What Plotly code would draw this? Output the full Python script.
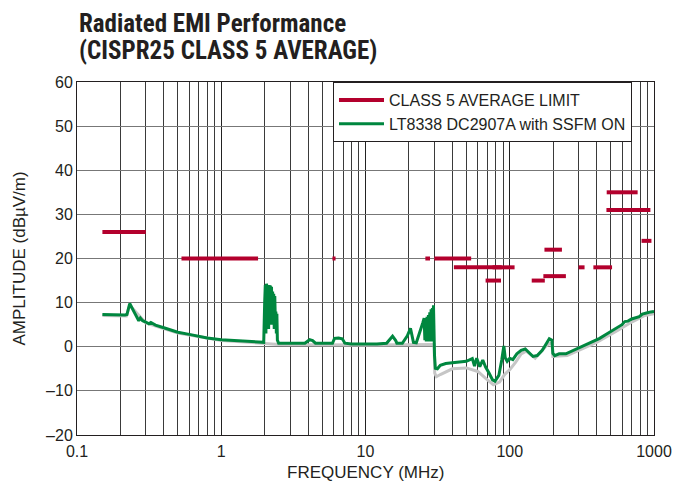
import plotly.graph_objects as go

# ---- data ----
lim_start = [0.15, 0.53, 5.9, 26, 30, 41, 68, 76, 142, 171, 174, 300, 380, 468, 470, 820]
lim_end = [0.30, 1.8, 6.2, 28, 54, 88, 87, 108, 175, 245, 230, 330, 512, 944, 770, 960]
lim_level = [26, 20, 20, 20, 20, 18, 15, 18, 15, 16, 22, 18, 18, 31, 35, 24]

green_f = [0.15, 0.18, 0.215, 0.222, 0.232, 0.245, 0.258, 0.268, 0.275, 0.285, 0.30, 0.315, 0.325,
           0.35, 0.40, 0.45, 0.5, 0.6, 0.7, 0.8, 1.0, 1.2, 1.5, 1.9, 1.97,
           2.0, 2.02, 2.04, 2.06, 2.08, 2.09, 2.11, 2.13, 2.15, 2.17, 2.19, 2.21, 2.23, 2.25,
           2.27, 2.29, 2.31, 2.33, 2.35, 2.37, 2.39, 2.41, 2.43, 2.45, 2.5,
           2.6, 3, 3.8, 4.1, 4.3, 4.5,
           5.9, 6.1, 6.5, 6.9, 7.2, 8, 10, 12, 14, 15.4, 16.2, 16.5, 18, 19.5, 20.5, 21.5, 22.5,
           24, 25.0, 25.5, 25.8, 26.1, 26.4, 26.7, 27.0, 27.3, 27.6, 27.9, 28.2, 28.5, 28.8,
           29.1, 29.4, 29.6, 29.8, 29.95, 30.1, 30.5, 31.5, 33, 36, 40,
           45, 50, 55, 57, 59, 62, 65, 68, 72, 76, 79, 84, 88, 91, 93, 96, 100, 105, 112, 120,
           128, 135, 145, 155, 168, 180, 188, 196, 199, 205, 220, 245, 270, 300, 340, 380, 420,
           470, 520, 575, 600, 627, 660, 700, 750, 790, 830, 860, 900, 950, 1000]
green_db = [7.3, 7.2, 7.2, 7.3, 9.8, 8.3, 7.0, 5.9, 6.5, 5.9, 5.6, 5.2, 5.5,
            4.9, 4.3, 3.7, 3.3, 2.8, 2.3, 2.0, 1.6, 1.4, 1.2, 1.0, 1.0,
            10.0, 14.0, 3.0, 14.3, 12.0, 6.0, 13.8, 4.0, 14.0, 6.0, 13.9, 5.0, 13.6, 6.0,
            12.5, 5.0, 12.0, 4.0, 11.5, 6.0, 8.0, 3.0, 7.5, 1.5, 0.8,
            0.8, 0.8, 0.8, 1.6, 1.4, 0.8,
            0.8, 1.9, 2.0, 1.8, 0.8, 0.6, 0.6, 0.6, 0.8, 2.4, 1.4, 0.8, 0.8, 2.5, 4.2, 1.0, 0.9,
            3.5, 5.5, 6.5, 1.5, 5.5, 1.2, 6.8, 1.5, 7.2, 1.2, 7.8, 1.5, 8.5, 1.2,
            8.8, 1.5, 9.4, 2.0, 9.0, -2, -4.9, -5.0, -4.2, -3.8, -3.6,
            -3.5, -3.3, -2.7, -4.4, -2.6, -4.5, -3.0, -4.6, -6.0, -7.5, -7.8, -6.5, -3, 0.2, -2.5, -3.3, -2.6, -2.9, -1.6, -0.8,
            -0.5, -1.2, -2.2, -2.0, -0.8, 0.8, 1.8, 1.5, -1.5, -2.0, -1.6, -1.6, -1.0, -0.3, 0.6, 1.2, 1.9,
            2.9, 3.7, 4.6, 5.0, 5.7, 5.8, 6.3, 6.5, 6.8, 7.4, 7.6, 7.7, 7.9, 8.0]

gray_f = [0.15, 0.22, 0.232, 0.3, 0.5, 1, 1.9, 2.5, 10, 29.9, 30.2, 31, 33, 40, 50, 60, 70, 77, 85,
          92, 100, 110, 120, 130, 150, 180, 196, 199, 250, 300, 400, 575, 700, 850, 1000]
gray_db = [7.1, 7.0, 9.4, 5.4, 3.1, 1.4, 0.8, 0.5, 0.4, 0.5, -6.0, -6.8, -6.3, -5.0, -4.8, -5.6, -7.5, -8.6, -8.0,
           -6.3, -5.2, -3.5, -1.6, -1.0, -2.6, 0.3, 1.0, -2.2, -2.0, -0.8, 1.0, 3.9, 5.6, 7.0, 7.5]

x_tickvals = [0.1, 1, 10, 100, 1000]
x_ticktext = ["0.1", "1", "10", "100", "1000"]
x_minor = [m * 10 ** e for e in range(-1, 3) for m in range(2, 10)]
y_tickvals = [-20, -10, 0, 10, 20, 30, 40, 50, 60]
y_ticktext = ["–20", "–10", "0", "10", "20", "30", "40", "50", "60"]

title_lines = ["Radiated EMI Performance", "(CISPR25 CLASS 5 AVERAGE)"]

NARROW = "Roboto Condensed, Liberation Sans Narrow, Arial Narrow, sans-serif"
FONT = "Liberation Sans, Arial, sans-serif"
TXT = "#231f20"
RED = "#b3002d"
GREEN = "#00873f"
GRAY = "#c6c6c6"

# plot-area geometry in pixels (for placing the titles)
L, R, T, B = 77, 19, 82, 51
PW, PH = 673 - L - R, 486 - T - B

# build limit segments
lx, ly = [], []
for s, e, v in zip(lim_start, lim_end, lim_level):
    lx += [s, e, None]
    ly += [v, v, None]

fig = go.Figure()
fig.add_trace(go.Scatter(x=gray_f, y=gray_db, mode="lines", line=dict(color=GRAY, width=3),
                         showlegend=False, hoverinfo="skip"))
fig.add_trace(go.Scatter(x=lx, y=ly, mode="lines", line=dict(color=RED, width=4),
                         name="CLASS 5 AVERAGE LIMIT"))
fig.add_trace(go.Scatter(x=green_f, y=green_db, mode="lines", line=dict(color=GREEN, width=3),
                         name="LT8338 DC2907A with SSFM ON"))

title_centers_px = [23, 51]
annots = [dict(text=t, xref="paper", yref="paper", x=0, y=1 + (T - c) / PH,
               xanchor="left", yanchor="middle", align="left", showarrow=False,
               font=dict(family=NARROW, size=25, color=TXT, weight="bold"))
          for t, c in zip(title_lines, title_centers_px)]
annots += [
    dict(text="FREQUENCY (MHz)", xref="paper", yref="paper", x=0.5, y=-(473 - (486 - B)) / PH,
         xanchor="center", yanchor="middle", showarrow=False,
         font=dict(family=FONT, size=17, color=TXT)),
    dict(text="AMPLITUDE (dBµV/m)", xref="paper", yref="paper", x=-(L - 19) / PW, y=0.5,
         xanchor="center", yanchor="middle", textangle=-90, showarrow=False,
         font=dict(family=FONT, size=17, color=TXT)),
]

fig.update_layout(
    width=673, height=486,
    margin=dict(l=L, r=R, t=T, b=B, autoexpand=False),
    paper_bgcolor="white", plot_bgcolor="white",
    font=dict(family=FONT, size=16, color=TXT),
    legend=dict(x=(333 - L) / PW, y=1, xanchor="left", yanchor="top",
                bgcolor="white", bordercolor=TXT, borderwidth=1,
                font=dict(family=FONT, size=16, color=TXT),
                itemwidth=45, tracegroupgap=0),
    showlegend=True,
    annotations=annots,
)
fig.update_xaxes(
    type="log", range=[-1, 3], automargin=False,
    tickmode="array", tickvals=x_tickvals, ticktext=x_ticktext,
    showgrid=True, gridcolor="#222222", gridwidth=1,
    minor=dict(tickmode="array", tickvals=x_minor, showgrid=True, gridcolor="#3a3a3a", gridwidth=1),
    showline=True, linecolor=TXT, linewidth=1, mirror=True,
    ticks="", zeroline=False, ticklabelstandoff=2,
    tickfont=dict(family=FONT, size=16, color=TXT),
)
fig.update_yaxes(
    range=[-20, 60], automargin=False, tickmode="array", tickvals=y_tickvals, ticktext=y_ticktext,
    showgrid=True, gridcolor="#777777", gridwidth=1,
    showline=True, linecolor=TXT, linewidth=1, mirror=True,
    ticks="", zeroline=False,
    tickfont=dict(family=FONT, size=16, color=TXT),
)

fig.write_html("out.html", config={"displayModeBar": False},
               post_script="document.body.style.margin='0';")
